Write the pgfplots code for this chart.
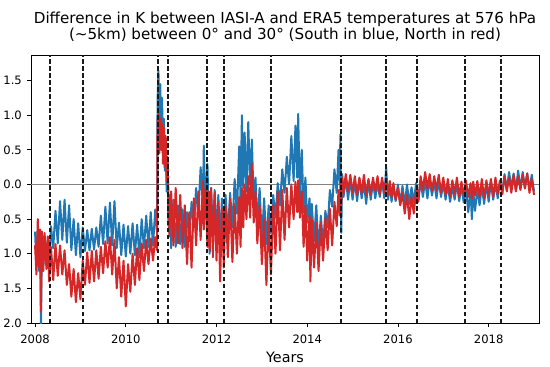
\documentclass[border=0pt]{standalone}
\usepackage{pgfplots}
\pgfplotsset{compat=1.18}
\usepackage{pgfplotstable}
\usepackage{fontspec}
\setmainfont{DejaVu Sans}
\definecolor{mblue}{RGB}{31,119,180}
\definecolor{mred}{RGB}{214,39,40}
\definecolor{zgray}{RGB}{128,128,128}

\pgfplotstableread{
x b r
2008.00 -0.68 -0.88
2008.03 -1.20 -1.30
2008.06 -0.65 -0.50
2008.09 -1.25 -1.20
2008.11 -0.70 -0.65
2008.13 -2.10 -1.84
2008.15 -0.75 -0.68
2008.18 -1.18 -1.25
2008.21 -0.78 -0.70
2008.25 -1.15 -1.22
2008.28 -0.80 -0.75
2008.31 -1.12 -1.40
2008.35 -0.60 -0.90
2008.40 -0.92 -1.38
2008.45 -0.38 -0.86
2008.50 -0.85 -1.32
2008.55 -0.24 -0.88
2008.60 -0.80 -1.30
2008.65 -0.22 -0.95
2008.70 -0.84 -1.45
2008.75 -0.30 -1.15
2008.80 -0.95 -1.62
2008.85 -0.50 -1.22
2008.90 -1.02 -1.70
2008.95 -0.56 -1.28
2009.00 -1.05 -1.66
2009.05 -0.62 -1.10
2009.10 -0.96 -1.45
2009.15 -0.66 -0.98
2009.20 -0.95 -1.42
2009.25 -0.64 -0.96
2009.30 -0.94 -1.40
2009.35 -0.62 -0.95
2009.40 -0.90 -1.36
2009.45 -0.45 -0.90
2009.50 -0.86 -1.28
2009.55 -0.32 -0.82
2009.60 -0.85 -1.20
2009.65 -0.26 -0.76
2009.70 -0.88 -1.30
2009.75 -0.24 -0.80
2009.80 -0.92 -1.50
2009.85 -0.55 -1.05
2009.90 -1.02 -1.62
2009.95 -0.58 -1.10
2010.00 -1.04 -1.76
2010.05 -0.60 -1.15
2010.10 -1.00 -1.55
2010.15 -0.56 -1.00
2010.20 -1.02 -1.45
2010.25 -0.58 -0.92
2010.30 -1.05 -1.38
2010.35 -0.50 -0.85
2010.40 -0.92 -1.25
2010.45 -0.45 -0.80
2010.50 -0.90 -1.15
2010.55 -0.40 -0.78
2010.60 -0.88 -1.10
2010.65 -0.36 -0.76
2010.69 -0.70 -0.95
2010.70 1.20 0.90
2010.72 1.64 1.02
2010.74 0.70 0.45
2010.76 1.45 0.96
2010.78 0.75 0.50
2010.80 1.25 0.88
2010.82 0.45 0.30
2010.84 0.95 0.82
2010.86 0.20 0.25
2010.88 0.60 0.70
2010.90 -0.10 0.05
2010.92 0.35 0.40
2010.94 -0.60 -0.15
2010.96 -0.15 -0.75
2011.00 -0.92 -0.10
2011.05 -0.22 -0.88
2011.10 -0.90 -0.05
2011.15 -0.30 -0.85
2011.20 -0.86 -0.15
2011.25 -0.36 -0.92
2011.30 -0.90 -0.30
2011.35 -0.40 -1.15
2011.40 -0.82 -0.40
2011.45 -0.25 -1.20
2011.50 -0.62 -0.20
2011.55 -0.05 -0.88
2011.60 -0.42 -0.10
2011.65 0.25 -0.80
2011.70 -0.30 0.05
2011.72 0.56 -0.65
2011.76 -0.45 -0.05
2011.80 0.30 -0.90
2011.83 -0.60 -0.10
2011.85 -1.00 -0.95
2011.88 -0.05 -0.05
2011.92 -0.70 -1.05
2011.96 -0.08 -0.12
2012.00 -0.80 -1.10
2012.04 -0.15 -0.25
2012.08 -0.85 -1.40
2012.12 -0.20 -0.35
2012.16 -0.78 -1.20
2012.20 -0.15 -0.30
2012.25 -0.72 -1.05
2012.30 -0.12 -0.20
2012.35 -0.62 -1.12
2012.40 0.08 -0.28
2012.45 -0.42 -1.00
2012.50 0.55 -0.18
2012.53 -0.20 -0.90
2012.56 1.00 -0.05
2012.59 -0.05 -0.62
2012.62 0.75 0.00
2012.66 -0.10 -0.50
2012.70 0.90 0.12
2012.74 0.00 -0.48
2012.78 0.65 0.30
2012.82 -0.30 -0.55
2012.86 0.10 -0.10
2012.90 -0.60 -0.85
2012.95 -0.05 -0.30
2013.00 -0.80 -1.15
2013.05 -0.20 -0.50
2013.10 -0.86 -1.45
2013.15 -0.30 -0.50
2013.20 -0.70 -1.30
2013.25 -0.15 -0.30
2013.30 -0.48 -1.00
2013.35 0.02 -0.10
2013.40 -0.30 -0.95
2013.45 0.22 -0.08
2013.50 -0.12 -0.80
2013.55 0.40 -0.05
2013.60 0.00 -0.62
2013.65 0.70 0.00
2013.70 0.05 -0.50
2013.74 0.85 0.04
2013.78 0.10 -0.40
2013.80 1.02 0.06
2013.84 -0.20 -0.48
2013.88 0.50 -0.10
2013.92 -0.40 -0.90
2013.96 0.10 -0.30
2014.00 -0.55 -1.10
2014.05 -0.20 -0.45
2014.07 -0.65 -1.40
2014.10 -0.28 -0.50
2014.15 -0.82 -1.20
2014.20 -0.30 -0.55
2014.25 -0.96 -1.25
2014.30 -0.45 -0.55
2014.35 -0.90 -1.10
2014.40 -0.38 -0.48
2014.45 -0.62 -0.95
2014.50 -0.08 -0.35
2014.55 -0.32 -0.88
2014.60 0.22 -0.25
2014.65 -0.12 -0.60
2014.69 0.50 -0.08
2014.72 0.00 -0.45
2014.73 0.72 0.00
2014.75 -0.70 -0.30
2014.77 0.15 0.10
2014.80 -0.18 -0.12
2014.85 0.10 0.15
2014.90 -0.22 -0.10
2014.95 0.08 0.14
2015.00 -0.22 -0.12
2015.05 0.05 0.12
2015.10 -0.24 -0.15
2015.15 0.08 0.10
2015.20 -0.20 -0.12
2015.25 0.02 0.14
2015.30 -0.28 -0.16
2015.35 0.06 0.08
2015.40 -0.22 -0.14
2015.45 0.04 0.10
2015.50 -0.20 -0.10
2015.55 0.02 0.12
2015.60 -0.18 -0.14
2015.65 0.05 0.10
2015.70 -0.20 -0.12
2015.74 0.25 0.08
2015.78 -0.22 -0.15
2015.82 0.00 0.05
2015.86 -0.25 -0.18
2015.90 -0.02 0.02
2015.95 -0.24 -0.22
2016.00 0.00 -0.05
2016.05 -0.28 -0.30
2016.10 -0.02 -0.12
2016.15 -0.30 -0.42
2016.20 0.00 -0.15
2016.25 -0.28 -0.50
2016.30 -0.04 -0.18
2016.35 -0.26 -0.42
2016.40 0.02 -0.08
2016.45 -0.22 -0.25
2016.50 0.06 0.12
2016.55 -0.18 -0.08
2016.60 0.05 0.18
2016.65 -0.20 -0.06
2016.70 0.08 0.15
2016.75 -0.16 -0.10
2016.80 0.04 0.12
2016.85 -0.20 -0.08
2016.90 0.06 0.14
2016.95 -0.18 -0.12
2017.00 0.02 0.10
2017.05 -0.22 -0.15
2017.10 0.00 0.08
2017.15 -0.25 -0.18
2017.20 -0.02 0.06
2017.25 -0.22 -0.14
2017.30 0.02 0.10
2017.35 -0.24 -0.18
2017.40 -0.02 0.04
2017.45 -0.26 -0.16
2017.50 -0.05 0.06
2017.55 -0.40 -0.18
2017.60 -0.08 0.02
2017.63 -0.50 -0.20
2017.66 -0.10 0.04
2017.70 -0.38 -0.16
2017.75 -0.06 0.05
2017.80 -0.30 -0.18
2017.85 -0.02 0.08
2017.90 -0.28 -0.20
2017.95 0.02 0.06
2018.00 -0.25 -0.16
2018.05 0.04 0.08
2018.10 -0.22 -0.18
2018.15 0.02 0.10
2018.20 -0.20 -0.14
2018.25 0.05 0.06
2018.30 -0.12 -0.14
2018.35 0.15 0.12
2018.40 -0.08 -0.10
2018.45 0.18 0.10
2018.50 -0.05 -0.12
2018.55 0.16 0.14
2018.60 -0.08 -0.10
2018.65 0.20 0.12
2018.70 -0.06 -0.08
2018.75 0.18 0.14
2018.80 -0.04 -0.06
2018.85 0.16 0.16
2018.90 -0.08 -0.12
2018.95 0.14 0.08
2019.00 -0.10 -0.15
}\data

\begin{document}
\begin{tikzpicture}
\path[use as bounding box] (-31bp,-44bp) rectangle (519bp,323bp);
\begin{axis}[
  at={(0,0)}, anchor=south west,
  scale only axis, width=508bp, height=268bp,
  xmin=2007.91, xmax=2019.11, ymin=-2, ymax=1.87,
  axis line style={line width=0.8bp},
  xtick={2008,2010,2012,2014,2016,2018},
  xticklabels={2008,2010,2012,2014,2016,2018},
  ytick={-2,-1.5,-1,-0.5,0,0.5,1,1.5},
  yticklabels={2.0,1.5,1.0,0.5,0.0,0.5,1.0,1.5},
  xtick pos=bottom, ytick pos=left,
  tick align=outside,
  major tick length=4bp,
  every tick/.style={black, line width=0.8bp},
  tick label style={font=\fontsize{11.6}{13}\selectfont, inner sep=0pt},
  xticklabel style={anchor=base, yshift=-16bp},
  yticklabel style={anchor=east, xshift=-5bp},
  xlabel={Years},
  xlabel style={font=\fontsize{14.4}{16}\selectfont, inner sep=0pt, anchor=base, at={(axis description cs:0.5,0)}, yshift=-39bp},
  clip=true,
]
\addplot[zgray, line width=0.8bp] coordinates {(2007.91,0) (2019.11,0)};
\addplot[mblue, line width=2bp, line join=round] table[x=x, y=b] {\data};
\addplot[mred, line width=2bp, line join=round] table[x=x, y=r] {\data};
\pgfplotsinvokeforeach{2008.329,2009.056,2010.710,2010.930,2011.790,2012.165,2013.201,2014.745,2015.738,2016.422,2017.480,2018.272}{
  \addplot[black!90, line width=1.5bp, dash pattern=on 4.5bp off 2.5bp] coordinates {(#1,-2) (#1,1.87)};
}
\end{axis}
\node[anchor=base, inner sep=0pt, font=\fontsize{15.2}{17}\selectfont] at (254bp,299bp) {Difference in K between IASI-A and ERA5 temperatures at 576 hPa};
\node[anchor=base, inner sep=0pt, font=\fontsize{15.2}{17}\selectfont] at (254bp,283bp) {(\textasciitilde5km) between 0° and 30° (South in blue, North in red)};
\end{tikzpicture}
\end{document}
